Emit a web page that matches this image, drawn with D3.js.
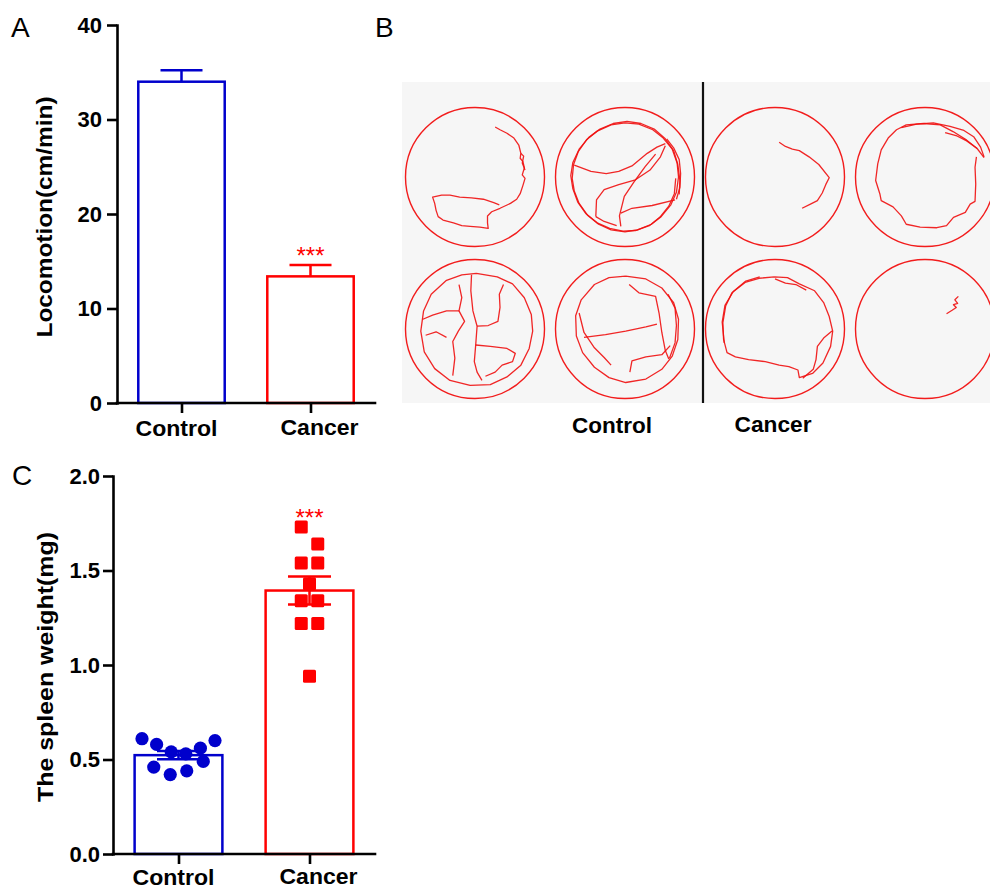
<!DOCTYPE html>
<html><head><meta charset="utf-8">
<script src="https://cdn.jsdelivr.net/npm/d3@7"></script>
<style>
body{margin:0;background:#fff}
svg{display:block}
text{font-family:"Liberation Sans",Arial,Helvetica,sans-serif}
</style>
</head><body>
<svg id="chart" width="990" height="890"></svg>
<script>
// ---------------- data ----------------
const categories = ["Control", "Cancer"];
const locomotionMean = [34.0, 13.4];
const locomotionSem = [1.2, 1.2];
const locomotionTicks = [0, 10, 20, 30, 40];
const spleenControl = [0.61, 0.58, 0.54, 0.53, 0.56, 0.60, 0.46, 0.42, 0.44, 0.49];
const spleenCancer = [1.73, 1.64, 1.54, 1.54, 1.43, 1.34, 1.34, 1.22, 1.22, 0.94];
const spleenTicks = [0, 0.5, 1.0, 1.5, 2.0];
const significance = ["", "***"];
const panelLabels = ["A", "B", "C"];
const groupNames = ["Control", "Cancer"];

// open-field tracks, in arena-radius units relative to arena centre
const arenaTraces = [
  // control, top-left
  [[[0.29,-0.72],[0.36,-0.68],[0.46,-0.63],[0.56,-0.56],[0.63,-0.46],[0.66,-0.34],[0.65,-0.27],[0.69,-0.22],[0.71,-0.13],[0.68,-0.03],[0.72,0.02],[0.69,0.12],[0.65,0.24],[0.60,0.32],[0.51,0.38],[0.36,0.45],[0.24,0.50],[0.18,0.56],[0.18,0.66],[0.19,0.74],[0.07,0.72],[-0.07,0.71],[-0.19,0.70],[-0.31,0.66],[-0.46,0.62],[-0.53,0.57],[-0.56,0.48],[-0.58,0.38],[-0.61,0.29],[-0.48,0.26],[-0.36,0.26],[-0.22,0.29],[-0.05,0.30],[0.12,0.32],[0.27,0.37],[0.35,0.40]],
   [[0.66,-0.34],[0.70,-0.30],[0.68,-0.20],[0.72,-0.10]]],
  // control, top-right
  [[[0.77,0.00],[0.74,0.22],[0.66,0.40],[0.52,0.57],[0.38,0.68],[0.18,0.76],[0.00,0.79],[-0.20,0.76],[-0.38,0.68],[-0.54,0.55],[-0.66,0.38],[-0.73,0.20],[-0.76,0.02],[-0.74,-0.18],[-0.67,-0.37],[-0.55,-0.54],[-0.40,-0.66],[-0.20,-0.75],[0.00,-0.78],[0.20,-0.76],[0.40,-0.68],[0.55,-0.56],[0.68,-0.40],[0.75,-0.20],[0.77,0.00]],
   [[0.73,0.02],[0.71,0.24],[0.63,0.42],[0.50,0.58],[0.35,0.70],[0.15,0.77],[-0.03,0.78],[-0.22,0.74],[-0.40,0.66],[-0.56,0.53],[-0.68,0.36],[-0.75,0.17],[-0.78,-0.02],[-0.75,-0.21],[-0.66,-0.40],[-0.52,-0.57],[-0.36,-0.69],[-0.17,-0.77],[0.03,-0.80],[0.23,-0.77],[0.42,-0.69],[0.58,-0.55],[0.70,-0.38],[0.76,-0.18],[0.79,0.05],[0.78,0.25]],
   [[0.60,-0.55],[0.70,-0.42],[0.78,-0.25],[0.80,-0.05],[0.79,0.15],[0.74,0.32]],
   [[-0.73,-0.17],[-0.49,-0.08],[-0.27,-0.05],[-0.09,-0.08],[0.10,-0.16],[0.32,-0.34],[0.46,-0.43],[0.58,-0.48]],
   [[-0.42,0.57],[-0.41,0.33],[-0.30,0.18],[-0.09,0.11],[0.15,0.04],[0.36,-0.10],[0.51,-0.29],[0.58,-0.45]],
   [[-0.06,0.71],[-0.08,0.56],[-0.01,0.28],[0.13,0.07],[0.29,-0.15],[0.44,-0.33]],
   [[-0.06,0.52],[0.10,0.45],[0.39,0.41],[0.72,0.33]],
   [[-0.42,0.57],[-0.30,0.64],[-0.12,0.70]]],
  // control, bottom-left
  [[[0.02,-0.80],[0.32,-0.75],[0.54,-0.65],[0.71,-0.45],[0.81,-0.21],[0.83,0.03],[0.78,0.28],[0.66,0.52],[0.46,0.69],[0.22,0.80],[-0.07,0.81],[-0.36,0.74],[-0.58,0.57],[-0.73,0.33],[-0.78,0.03],[-0.74,-0.26],[-0.63,-0.50],[-0.41,-0.70],[-0.19,-0.78],[0.02,-0.80]],
   [[-0.05,-0.78],[-0.06,-0.55],[-0.03,-0.26],[0.03,-0.04],[0.01,0.23],[-0.01,0.47],[0.03,0.62],[0.10,0.74]],
   [[0.03,-0.04],[0.19,-0.05],[0.33,-0.11],[0.36,-0.31],[0.35,-0.50],[0.41,-0.64]],
   [[0.01,0.23],[0.22,0.25],[0.46,0.28],[0.58,0.35],[0.54,0.47],[0.39,0.52],[0.29,0.62],[0.15,0.68]],
   [[-0.23,-0.64],[-0.19,-0.45],[-0.23,-0.26],[-0.15,-0.11],[-0.24,0.03],[-0.32,0.18],[-0.29,0.42],[-0.32,0.67]],
   [[-0.75,-0.14],[-0.61,-0.20],[-0.41,-0.26],[-0.23,-0.26]],
   [[-0.71,0.09],[-0.56,0.04],[-0.41,0.12]]],
  // control, bottom-right
  [[[0.01,-0.76],[0.30,-0.72],[0.53,-0.59],[0.70,-0.38],[0.77,-0.14],[0.76,0.15],[0.68,0.39],[0.53,0.58],[0.30,0.72],[0.01,0.77],[-0.23,0.70],[-0.44,0.55],[-0.61,0.34],[-0.70,0.10],[-0.71,-0.19],[-0.63,-0.42],[-0.44,-0.64],[-0.23,-0.74],[0.01,-0.76]],
   [[0.62,-0.50],[0.72,-0.30],[0.74,-0.05],[0.72,0.20],[0.64,0.42]],
   [[-0.59,0.12],[-0.28,0.08],[0.01,0.03],[0.30,-0.03],[0.46,-0.07]],
   [[-0.66,-0.23],[-0.59,0.05],[-0.44,0.27],[-0.30,0.41],[-0.20,0.52]],
   [[0.06,-0.64],[0.20,-0.52],[0.44,-0.47],[0.49,-0.23],[0.53,0.05],[0.58,0.31],[0.63,0.43]],
   [[0.07,0.62],[0.10,0.46],[0.30,0.40],[0.53,0.37],[0.65,0.24]]],
  // cancer, top-left
  [[[0.06,-0.50],[0.15,-0.44],[0.25,-0.40],[0.35,-0.38],[0.49,-0.29],[0.63,-0.18],[0.78,0.01],[0.73,0.11],[0.68,0.23],[0.61,0.34],[0.51,0.39],[0.39,0.45]]],
  // cancer, top-right
  [[[0.85,-0.28],[0.75,-0.41],[0.60,-0.53],[0.41,-0.65],[0.22,-0.75],[-0.02,-0.77],[-0.27,-0.75],[-0.41,-0.68],[-0.53,-0.56],[-0.63,-0.39],[-0.68,-0.19],[-0.71,0.05],[-0.65,0.24],[-0.63,0.34],[-0.46,0.43],[-0.34,0.56],[-0.27,0.68],[-0.07,0.72],[0.17,0.73],[0.31,0.70],[0.41,0.58],[0.58,0.51],[0.65,0.39],[0.72,0.35],[0.73,0.10],[0.72,-0.14],[0.74,-0.29]],
   [[-0.34,-0.71],[-0.12,-0.76],[0.12,-0.78],[0.36,-0.73],[0.56,-0.67],[0.70,-0.58],[0.80,-0.43],[0.85,-0.29]],
   [[0.29,-0.64],[0.46,-0.59],[0.60,-0.52],[0.75,-0.41]]],
  // cancer, bottom-left
  [[[-0.01,-0.75],[0.18,-0.74],[0.35,-0.65],[0.57,-0.55],[0.70,-0.38],[0.78,-0.18],[0.83,0.03],[0.80,0.25],[0.69,0.49],[0.54,0.64],[0.35,0.70],[0.33,0.59],[0.20,0.54],[0.06,0.52],[-0.14,0.47],[-0.38,0.44],[-0.57,0.40],[-0.69,0.34],[-0.74,0.15],[-0.75,-0.09],[-0.71,-0.33],[-0.62,-0.52],[-0.43,-0.67],[-0.23,-0.73],[-0.01,-0.75]],
   [[-0.73,0.20],[-0.76,-0.10],[-0.72,-0.34],[-0.60,-0.54],[-0.42,-0.69],[-0.22,-0.75]],
   [[0.82,0.03],[0.70,0.13],[0.61,0.25],[0.59,0.44],[0.55,0.58],[0.40,0.71]],
   [[0.00,-0.72],[0.15,-0.66],[0.30,-0.64],[0.45,-0.56]]],
  // cancer, bottom-right
  [[[0.48,-0.47],[0.43,-0.42],[0.47,-0.37],[0.41,-0.35],[0.45,-0.31],[0.39,-0.27],[0.31,-0.22]]]
];

// ---------------- setup ----------------
const svg = d3.select("#chart");
const blue = "#0000cc", red = "#ff0000";
const colors = [blue, red];
const axisW = 2.6;

function styleAxis(g) {
  g.select(".domain").attr("stroke", "#000").attr("stroke-width", axisW).attr("stroke-linecap", "square");
  g.selectAll(".tick line").attr("stroke", "#000").attr("stroke-width", axisW);
  g.selectAll(".tick text").attr("fill", "#000").style("font-size", "22px").style("font-weight", "bold");
}

function drawFrame(cfg) {
  const y = d3.scaleLinear().domain([0, cfg.max]).range([cfg.y0, cfg.y1]);
  const x = d3.scalePoint().domain(categories).range([cfg.x0, cfg.x1]).padding(0.5);
  const bw = x.step() * 0.67;
  return {x, y, bw};
}

function drawAxes(cfg, s) {
  const yAxis = d3.axisLeft(s.y).tickValues(cfg.ticks).tickSize(10).tickSizeOuter(0)
    .tickPadding(cfg.tickPad).tickFormat(cfg.fmt);
  svg.append("g").attr("transform", `translate(${cfg.x0},0)`).call(yAxis).call(styleAxis);
  const xAxis = d3.axisBottom(s.x).tickSize(10).tickSizeOuter(0).tickFormat("");
  const gx = svg.append("g").attr("transform", `translate(0,${cfg.y0})`).call(xAxis);
  gx.select(".domain").attr("d", `M${cfg.x0},0H${cfg.x1}`);
  styleAxis(gx);
  // category labels
  const lab = [{dx: -5, dy: 0}, {dx: 9, dy: -1.5}];
  svg.selectAll(null).data(categories).join("text")
    .attr("x", (d, i) => s.x(d) + lab[i].dx)
    .attr("y", cfg.y0 + cfg.labGap)
    .attr("dy", (d, i) => lab[i].dy)
    .attr("text-anchor", "middle")
    .attr("textLength", (d, i) => cfg.catLen[i]).attr("lengthAdjust", "spacingAndGlyphs")
    .style("font-size", "22px").style("font-weight", "bold")
    .text(d => d);
  // y title
  svg.append("text")
    .attr("transform", `translate(${cfg.titleX},${(cfg.y0 + cfg.y1) / 2 + cfg.titleDy}) rotate(-90)`)
    .attr("text-anchor", "middle")
    .attr("textLength", cfg.titleLen).attr("lengthAdjust", "spacingAndGlyphs")
    .style("font-size", "22px").style("font-weight", "bold")
    .text(cfg.title);
}

function panelLetter(t, x, y) {
  svg.append("text").attr("x", x).attr("y", y).style("font-size", "28px").text(t);
}

// ---------------- panel A ----------------
const cfgA = {x0: 117, x1: 375, y0: 403, y1: 25, max: 40, ticks: locomotionTicks, tickPad: 5, labGap: 33,
  fmt: d3.format("d"), catLen: [82, 78], title: "Locomotion(cm/min)", titleLen: 241, titleX: 52, titleDy: 3};
const sA = drawFrame(cfgA);
categories.forEach((c, i) => {
  const cx = sA.x(c), m = locomotionMean[i], e = locomotionSem[i];
  svg.append("rect").attr("x", cx - sA.bw / 2).attr("y", sA.y(m))
    .attr("width", sA.bw).attr("height", sA.y(0) - sA.y(m))
    .attr("fill", "#fff").attr("stroke", colors[i]).attr("stroke-width", 2.5);
  svg.append("path")
    .attr("d", `M${cx},${sA.y(m)}V${sA.y(m + e)}M${cx - 21},${sA.y(m + e)}H${cx + 21}`)
    .attr("stroke", colors[i]).attr("stroke-width", 2.5).attr("fill", "none");
  if (significance[i]) {
    svg.append("text").attr("x", cx).attr("y", sA.y(m + e) - 1)
      .attr("text-anchor", "middle").attr("fill", red).style("font-size", "24px")
      .text(significance[i]);
  }
});
drawAxes(cfgA, sA);
panelLetter(panelLabels[0], 11, 37);

// ---------------- panel C ----------------
const cfgC = {x0: 113, x1: 375, y0: 854, y1: 476, max: 2.0, ticks: spleenTicks, tickPad: 3, labGap: 31,
  fmt: d3.format(".1f"), catLen: [82, 78], title: "The spleen weight(mg)", titleLen: 270, titleX: 53, titleDy: 2};
const sC = drawFrame(cfgC);
const spleen = [spleenControl, spleenCancer];

function rowLayout(values, cx) {
  const binW = 0.125, maxSpan = 73, maxStep = 16.5;
  const groups = d3.group(values.map((v, i) => ({v, i})), d => Math.floor(d.v / binW + 1e-9));
  const out = [];
  for (const arr of groups.values()) {
    const n = arr.length;
    const step = n > 1 ? Math.min(maxStep, maxSpan / (n - 1)) : 0;
    arr.forEach((d, j) => out.push({v: d.v, x: cx + (j - (n - 1) / 2) * step}));
  }
  return out;
}

categories.forEach((c, i) => {
  const cx = sC.x(c), vals = spleen[i];
  const m = d3.mean(vals), e = d3.deviation(vals) / Math.sqrt(vals.length);
  svg.append("rect").attr("x", cx - sC.bw / 2).attr("y", sC.y(m))
    .attr("width", sC.bw).attr("height", sC.y(0) - sC.y(m))
    .attr("fill", "#fff").attr("stroke", colors[i]).attr("stroke-width", 2.5);
  const pts = rowLayout(vals, cx);
  if (i === 0) {
    svg.selectAll(null).data(pts).join("circle")
      .attr("cx", d => d.x).attr("cy", d => sC.y(d.v)).attr("r", 6.6).attr("fill", colors[i]);
  } else {
    svg.selectAll(null).data(pts).join("rect")
      .attr("x", d => d.x - 6.5).attr("y", d => sC.y(d.v) - 6.5)
      .attr("width", 13).attr("height", 13).attr("rx", 1.5).attr("fill", colors[i]);
  }
  svg.append("path")
    .attr("d", `M${cx},${sC.y(m - e)}V${sC.y(m + e)}M${cx - 21.5},${sC.y(m + e)}H${cx + 21.5}M${cx - 21.5},${sC.y(m - e)}H${cx + 21.5}`)
    .attr("stroke", colors[i]).attr("stroke-width", 2.5).attr("fill", "none");
  if (significance[i]) {
    svg.append("text").attr("x", cx).attr("y", sC.y(d3.max(vals)) - 1)
      .attr("text-anchor", "middle").attr("fill", red).style("font-size", "24px")
      .text(significance[i]);
  }
});
drawAxes(cfgC, sC);
panelLetter(panelLabels[2], 12, 485);

// ---------------- panel B ----------------
const box = {x: 402, y: 82, w: 588, h: 321};
svg.append("defs").append("clipPath").attr("id", "boxclip")
  .append("rect").attr("x", box.x).attr("y", box.y).attr("width", box.w).attr("height", box.h);
svg.append("rect").attr("x", box.x).attr("y", box.y).attr("width", box.w).attr("height", box.h)
  .attr("fill", "#f6f6f6");
const gB = svg.append("g").attr("clip-path", "url(#boxclip)");
const colX = d3.scalePoint().domain([0, 1, 2, 3]).range([475, 925]);
const rowY = d3.scalePoint().domain([0, 1]).range([177, 329]);
const R = 69.5;
arenaTraces.forEach((tr, k) => {
  const col = k < 4 ? k % 2 : 2 + (k % 2);
  const row = Math.floor((k % 4) / 2);
  const cx = colX(col), cy = rowY(row);
  gB.append("circle").attr("cx", cx).attr("cy", cy).attr("r", R)
    .attr("fill", "none").attr("stroke", "#f21c1c").attr("stroke-width", 1.4);
  const line = d3.line().x(d => cx + d[0] * R).y(d => cy + d[1] * R).curve(d3.curveLinear);
  gB.selectAll(null).data(tr).join("path")
    .attr("d", line).attr("fill", "none").attr("stroke", "#f01010")
    .attr("stroke-width", 1.3).attr("stroke-linejoin", "round").attr("opacity", 0.9);
});
svg.append("line").attr("x1", 703).attr("x2", 703).attr("y1", box.y).attr("y2", box.y + box.h)
  .attr("stroke", "#111").attr("stroke-width", 2.2);
svg.selectAll(null).data(groupNames).join("text")
  .attr("x", (d, i) => [612, 773][i]).attr("y", (d, i) => [433, 431.5][i])
  .attr("text-anchor", "middle")
  .attr("textLength", (d, i) => [80, 77][i]).attr("lengthAdjust", "spacingAndGlyphs")
  .style("font-size", "22px").style("font-weight", "bold")
  .text(d => d);
panelLetter(panelLabels[1], 375, 37);
</script>
</body></html>
